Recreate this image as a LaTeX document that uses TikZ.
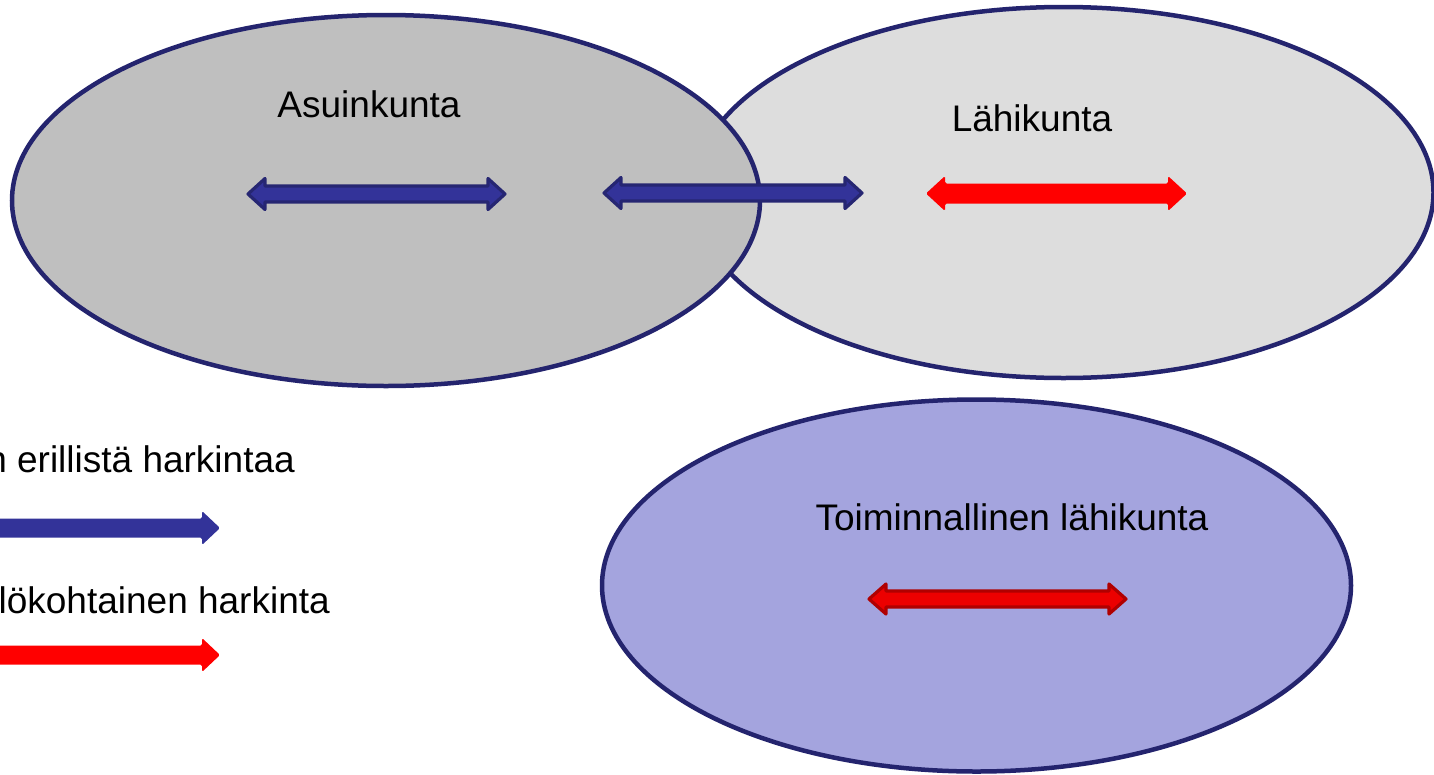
\documentclass[tikz,border=0pt]{standalone}
\usepackage{fontspec}
\setmainfont{Liberation Sans}
\usetikzlibrary{shapes.geometric,calc}
\definecolor{outl}{RGB}{36,36,110}
\definecolor{asuinfill}{RGB}{191,191,191}
\definecolor{lahifill}{RGB}{221,221,221}
\definecolor{toimfill}{RGB}{164,164,222}
\definecolor{arrblue}{RGB}{51,51,153}
\definecolor{arrblueline}{RGB}{38,38,114}
\definecolor{arrred}{RGB}{255,0,0}
\definecolor{arrdred}{RGB}{236,0,0}
\definecolor{arrdredline}{RGB}{176,0,0}
% #1 style, #2 left tip, #3 right tip, #4 head length, #5 head half width, #6 shaft half width
\newcommand\mydblarrow[6]{%
  \path[#1] (#2) -- ++(#4,-#5) -- ++(0,{#5-#6}) -- ($(#3)+(-#4,-#6)$) -- ++(0,{#6-#5})
    -- (#3) -- ++(-#4,#5) -- ++(0,{#6-#5}) -- ($(#2)+(#4,#6)$) -- ++(0,{#5-#6}) -- cycle;}
% single arrow: #2 tail, #3 tip
\newcommand\mysglarrow[6]{%
  \path[#1] ($(#2)+(0,-#6)$) -- ($(#3)+(-#4,-#6)$) -- ++(0,{#6-#5})
    -- (#3) -- ++(-#4,#5) -- ++(0,{#6-#5}) -- ($(#2)+(0,#6)$) -- cycle;}
\begin{document}
\begin{tikzpicture}[x=1pt,y=-1pt,
  ell/.style={ellipse, draw=outl, line width=4.5pt, inner sep=0pt},
  lbl/.style={font=\fontsize{37}{44}\selectfont, inner sep=0pt, anchor=base},
  bluearr/.style={fill=arrblue, draw=arrblueline, line width=3.2pt, line join=round},
  redarr/.style={fill=arrred, rounded corners=1.5pt},
  dredarr/.style={fill=arrdred, draw=arrdredline, line width=3.2pt, line join=round}]
\useasboundingbox (0,0) rectangle (1434,774);
\fill[white] (0,0) rectangle (1434,774);
% ellipses
\node[ell, fill=lahifill, minimum width=740, minimum height=371] (lahi) at (1063.5,192.5) {};
\node[ell, fill=asuinfill, minimum width=748, minimum height=371] (asuin) at (386,200.5) {};
\node[ell, fill=toimfill, minimum width=749, minimum height=372] (toim) at (976.5,585.5) {};
% labels
\node[lbl] (tasuin) at (369,117) {Asuinkunta};
\node[lbl] (tlahi) at (1032,131) {Lähikunta};
\node[lbl] (ttoim) at (1012,530) {Toiminnallinen lähikunta};
\node[lbl, anchor=base east] (leg1) at (295,472) {n erillistä harkintaa};
\node[lbl, anchor=base east] (leg2) at (330,613) {lökohtainen harkinta};
% arrow end points
\coordinate (a1l) at (248,194);
\coordinate (a1r) at (505,194);
\coordinate (a2l) at (604,193);
\coordinate (a2r) at (862,193);
\coordinate (a3l) at (926,193.5);
\coordinate (a3r) at (1187,193.5);
\coordinate (a4l) at (869,599);
\coordinate (a4r) at (1126,599);
\coordinate (l1l) at (-20,528);
\coordinate (l1r) at (220,528);
\coordinate (l2l) at (-20,655);
\coordinate (l2r) at (220,655);
% arrows
\mydblarrow{bluearr}{a1l}{a1r}{17}{15.5}{8}
\mydblarrow{bluearr}{a2l}{a2r}{17}{15.5}{8}
\mydblarrow{redarr}{a3l}{a3r}{19}{17.5}{10}
\mydblarrow{dredarr}{a4l}{a4r}{17}{15}{8}
\mysglarrow{fill=arrblue, rounded corners=1.5pt}{l1l}{l1r}{18}{17}{9.5}
\mysglarrow{fill=arrred, rounded corners=1.5pt}{l2l}{l2r}{18}{17}{9.5}
\end{tikzpicture}
\end{document}
